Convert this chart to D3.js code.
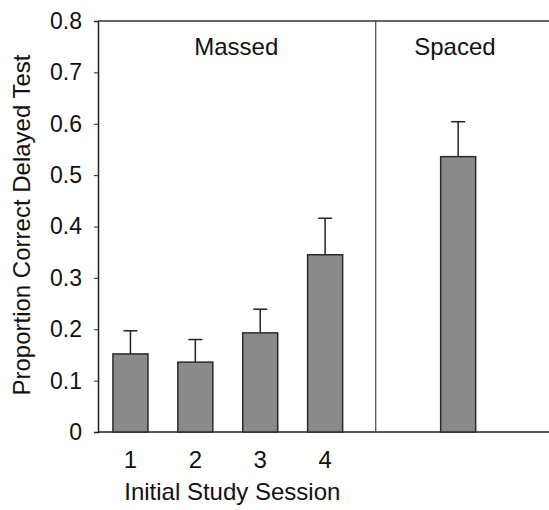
<!DOCTYPE html>
<html>
<head>
<meta charset="utf-8">
<script src="https://cdn.jsdelivr.net/npm/d3@7"></script>
<style>
  body { margin: 0; background: #fff; }
  text { font-family: "Liberation Sans", Arial, sans-serif; fill: #111; }
</style>
</head>
<body>
<div class="container"></div>
<script>
// data
var sessions = ["1", "2", "3", "4", "Spaced"];
var means    = [0.152, 0.136, 0.193, 0.345, 0.536];
var errTop   = [0.197, 0.180, 0.239, 0.416, 0.604];
var yTicks   = [0, 0.1, 0.2, 0.3, 0.4, 0.5, 0.6, 0.7, 0.8];
var groups   = ["Massed", "Spaced"];

var margin = {top: 21, right: 0, bottom: 78, left: 98},
    width = 549 - margin.left - margin.right,
    height = 510 - margin.top - margin.bottom;

// slot positions along x (in bar steps)
var slots = [0.5, 1.5, 2.5, 3.5, 5.55];
var divider = 4.28;

var x_scale = d3.scaleLinear().domain([0, 6.95]).range([0, width]);
var y_scale = d3.scaleLinear().domain([0, 0.8]).range([height, 0]);
var barW = 35;

var svg = d3.select("div.container").append("svg")
    .attr("width", 549)
    .attr("height", 510);

var g = svg.append("g")
    .attr("transform", "translate(" + margin.left + "," + margin.top + ")");

// Y axis
var yAxis = g.append("g")
    .call(d3.axisLeft(y_scale).tickValues(yTicks).tickSize(4).tickPadding(12)
      .tickFormat(function(d) { return d === 0 ? "0" : d3.format(".1f")(d); }));
yAxis.select(".domain").attr("stroke", "#222").attr("stroke-width", 1.5);
yAxis.selectAll(".tick line").attr("stroke", "#222").attr("stroke-width", 1);
yAxis.selectAll("text").style("font-size", "23px").attr("fill", "#111")
    .attr("font-family", "Liberation Sans, Arial, sans-serif");

// top and bottom lines
g.append("line").attr("x1", 0).attr("x2", width).attr("y1", 0).attr("y2", 0)
    .attr("stroke", "#333").attr("stroke-width", 1.5);
g.append("line").attr("x1", 0).attr("x2", width).attr("y1", height).attr("y2", height)
    .attr("stroke", "#222").attr("stroke-width", 1.5);

// divider between massed and spaced
g.append("line")
    .attr("x1", x_scale(divider)).attr("x2", x_scale(divider))
    .attr("y1", 0).attr("y2", height)
    .attr("stroke", "#444").attr("stroke-width", 1.2);

// error bars (drawn under the bars)
sessions.forEach(function(s, i) {
  var cx = x_scale(slots[i]);
  g.append("line")
      .attr("x1", cx).attr("x2", cx)
      .attr("y1", y_scale(means[i])).attr("y2", y_scale(errTop[i]))
      .attr("stroke", "#222").attr("stroke-width", 1.5);
  g.append("line")
      .attr("x1", cx - 7).attr("x2", cx + 7)
      .attr("y1", y_scale(errTop[i])).attr("y2", y_scale(errTop[i]))
      .attr("stroke", "#222").attr("stroke-width", 1.5);
});

// bars
g.selectAll("rect.bar")
    .data(means)
  .enter().append("rect")
    .attr("class", "bar")
    .attr("x", function(d, i) { return x_scale(slots[i]) - barW / 2; })
    .attr("y", function(d) { return y_scale(d); })
    .attr("width", barW)
    .attr("height", function(d) { return height - y_scale(d); })
    .attr("fill", "#8a8a8a")
    .attr("stroke", "#2a2a2a")
    .attr("stroke-width", 1.5);

// session numbers
g.selectAll("text.xlab")
    .data(sessions.slice(0, 4))
  .enter().append("text")
    .attr("class", "xlab")
    .attr("x", function(d, i) { return x_scale(slots[i]); })
    .attr("y", height + 36)
    .attr("text-anchor", "middle")
    .style("font-size", "24px")
    .text(function(d) { return d; });

// group labels
g.append("text")
    .attr("x", x_scale(2.13)).attr("y", 34)
    .attr("text-anchor", "middle").style("font-size", "24px")
    .text(groups[0]);
g.append("text")
    .attr("x", x_scale(5.5)).attr("y", 34)
    .attr("text-anchor", "middle").style("font-size", "24px")
    .text(groups[1]);

// axis titles
g.append("text")
    .attr("x", x_scale(2.07)).attr("y", height + 68)
    .attr("text-anchor", "middle").style("font-size", "24px")
    .text("Initial Study Session");

svg.append("text")
    .attr("transform", "translate(30,225) rotate(-90)")
    .attr("text-anchor", "middle").style("font-size", "24px")
    .text("Proportion Correct Delayed Test");
</script>
</body>
</html>
